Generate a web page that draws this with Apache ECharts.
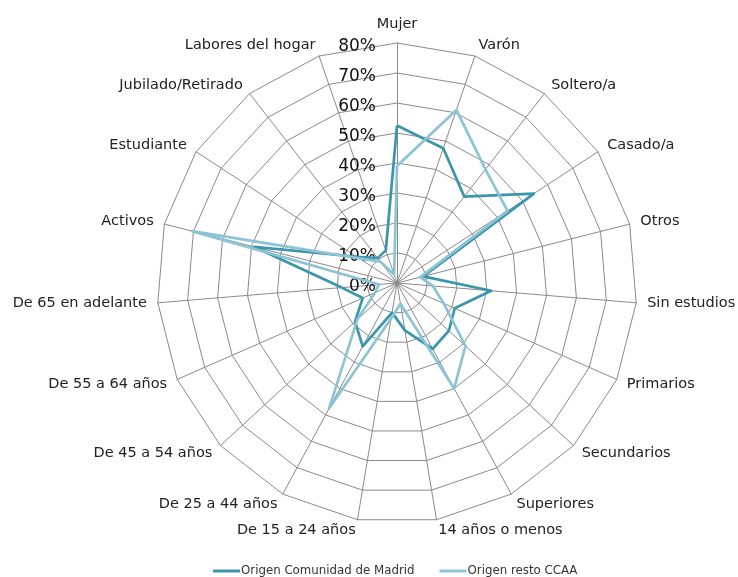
<!DOCTYPE html>
<html>
<head>
<meta charset="utf-8">
<script src="https://cdn.jsdelivr.net/npm/echarts@6/dist/echarts.min.js"></script>
<style>
  html, body { margin: 0; padding: 0; background: #fff; }
  #chart { width: 738px; height: 577px; }
</style>
</head>
<body>
<div id="chart"></div>
<script>
// ejes del radar, en el orden de la figura (sentido horario desde arriba)
var indicators = ['Mujer', 'Varón', 'Soltero/a', 'Casado/a', 'Otros', 'Sin estudios', 'Primarios',
  'Secundarios', 'Superiores', '14 años o menos', 'De 15 a 24 años', 'De 25 a 44 años',
  'De 45 a 54 años', 'De 55 a 64 años', 'De 65 en adelante', 'Activos', 'Estudiante',
  'Jubilado/Retirado', 'Labores del hogar'];
var seriesNames = ['Origen Comunidad de Madrid', 'Origen resto CCAA'];
var madrid = [52.5, 47.5, 36.5, 54.5, 9, 31.5, 21, 23.5, 25, 16, 10, 24, 19, 12.5, 18.5, 49, 16, 10.5, 11.5];
var resto = [39, 61, 48, 44, 8, 12, 17, 31, 40, 7, 12, 47.5, 18, 8, 6, 70.5, 15, 9, 3];
var maxValue = 80;
var tickStep = 10;

// echarts dibuja el radar en sentido antihorario, asi que se invierte el orden
var order = [0];
for (var i = indicators.length - 1; i > 0; i--) order.push(i);
function reorder(arr) {
  return order.map(function (k) { return arr[k]; });
}

var chart = echarts.init(document.getElementById('chart'));
var font = 'DejaVu Sans';

chart.setOption({
  backgroundColor: '#fff',
  animation: false,
  legend: {
    data: seriesNames,
    left: 208,
    bottom: -5,
    icon: 'rect',
    itemWidth: 27,
    itemHeight: 3,
    itemGap: 25,
    textStyle: { fontFamily: font, fontSize: 11.8, color: '#333', padding: [0, 0, 0, -4] }
  },
  radar: {
    center: [397, 283],
    radius: 240,
    startAngle: 90,
    shape: 'polygon',
    splitNumber: maxValue / tickStep,
    nameGap: 11,
    indicator: reorder(indicators).map(function (n) {
      return { name: n, min: 0, max: maxValue };
    }),
    axisName: { color: '#222', fontFamily: font, fontSize: 14.5 },
    axisLine: { lineStyle: { color: '#8a8a8a', width: 1 } },
    splitLine: { lineStyle: { color: '#8a8a8a', width: 1 } },
    splitArea: { show: false },
    axisTick: { show: false },
    axisLabel: { show: false }
  },
  // eje vertical solo para las etiquetas de porcentaje sobre el eje "Mujer"
  grid: { left: 397, top: 47, width: 1, height: 240 },
  xAxis: { type: 'value', show: false },
  yAxis: {
    type: 'value',
    min: 0,
    max: maxValue,
    interval: tickStep,
    axisLine: { show: false },
    axisTick: { show: false },
    splitLine: { show: false },
    axisLabel: { formatter: '{value}%', margin: 21, fontFamily: font, fontSize: 17, color: '#111' }
  },
  series: [{
    type: 'radar',
    symbol: 'none',
    data: [
      {
        name: seriesNames[0],
        value: reorder(madrid),
        lineStyle: { color: '#3a95ad', width: 2.7 },
        itemStyle: { color: '#3a95ad' }
      },
      {
        name: seriesNames[1],
        value: reorder(resto),
        lineStyle: { color: '#8cc4d5', width: 2.7 },
        itemStyle: { color: '#8cc4d5' }
      }
    ]
  }]
});
</script>
</body>
</html>
